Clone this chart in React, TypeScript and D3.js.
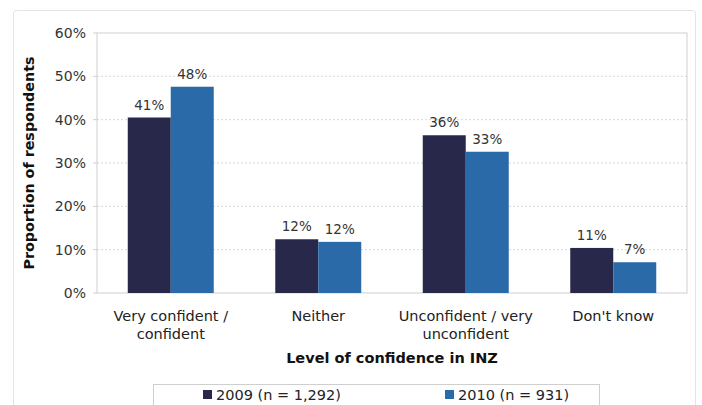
import * as d3 from "d3";

const categories = [
  ["Very confident /", "confident"],
  ["Neither"],
  ["Unconfident / very", "unconfident"],
  ["Don't know"],
];
const series = ["2009 (n = 1,292)", "2010 (n = 931)"];
const values2009 = [40.5, 12.4, 36.4, 10.4];
const values2010 = [47.6, 11.8, 32.6, 7.1];
const labels2009 = ["41%", "12%", "36%", "11%"];
const labels2010 = ["48%", "12%", "33%", "7%"];
const yTicks = [0, 10, 20, 30, 40, 50, 60];
const colors = ["#28284a", "#2a6aa9"];

const W = 702;
const H = 405;
const plot = { left: 97, right: 687, top: 33, bottom: 293 };
const font = "'DejaVu Sans', Verdana, sans-serif";

const App = () => {
  const x0 = d3
    .scaleBand()
    .domain(categories.map((_, i) => String(i)))
    .range([plot.left, plot.right])
    .paddingInner(0.417)
    .paddingOuter(0.2085);

  const x1 = d3
    .scaleBand()
    .domain(["0", "1"])
    .range([0, x0.bandwidth()]);

  const y = d3.scaleLinear().domain([0, 60]).range([plot.bottom, plot.top]);

  const allValues = [values2009, values2010];
  const allLabels = [labels2009, labels2010];

  return (
    <svg
      width={W}
      height={H}
      style={{ position: "absolute", left: 0, top: 0, background: "#fff" }}
      fontFamily={font}
    >
      <rect x={13.5} y={10.5} width={682} height={420} rx={3} fill="#fff" stroke="#e4e4e4" />
      {/* gridlines */}
      {yTicks.slice(1, -1).map((t) => (
        <line
          key={t}
          x1={plot.left}
          x2={plot.right}
          y1={y(t)}
          y2={y(t)}
          stroke="#d8d8d8"
          strokeDasharray="2,2"
        />
      ))}
      <rect
        x={plot.left}
        y={plot.top}
        width={plot.right - plot.left}
        height={plot.bottom - plot.top}
        fill="none"
        stroke="#cfcfcf"
      />
      {yTicks.map((t) => (
        <g key={t}>
          <line x1={plot.left - 4} x2={plot.left} y1={y(t)} y2={y(t)} stroke="#cfcfcf" />
          <text
            x={86}
            y={y(t)}
            dy="0.35em"
            textAnchor="end"
            fontSize={14}
            fill="#333"
          >
            {t}%
          </text>
        </g>
      ))}
      {/* bars */}
      {categories.map((_, i) => (
        <g key={i} transform={`translate(${x0(String(i))},0)`}>
          {allValues.map((vals, s) => (
            <g key={s}>
              <rect
                x={x1(String(s))}
                y={y(vals[i])}
                width={x1.bandwidth()}
                height={y(0) - y(vals[i])}
                fill={colors[s]}
              />
              <text
                x={(x1(String(s)) as number) + x1.bandwidth() / 2}
                y={y(vals[i]) - 8}
                textAnchor="middle"
                fontSize={13.5}
                fill="#333"
              >
                {allLabels[s][i]}
              </text>
            </g>
          ))}
        </g>
      ))}
      {/* category labels */}
      {categories.map((lines, i) => (
        <text
          key={i}
          x={(x0(String(i)) as number) + x0.bandwidth() / 2}
          y={321}
          textAnchor="middle"
          fontSize={14.5}
          fill="#222"
        >
          {lines.map((l, j) => (
            <tspan key={j} x={(x0(String(i)) as number) + x0.bandwidth() / 2} dy={j === 0 ? 0 : 18}>
              {l}
            </tspan>
          ))}
        </text>
      ))}
      <text
        x={(plot.left + plot.right) / 2}
        y={363}
        textAnchor="middle"
        fontSize={14.5}
        fontWeight="bold"
        fill="#111"
      >
        Level of confidence in INZ
      </text>
      <text
        transform={`translate(34,${(plot.top + plot.bottom) / 2}) rotate(-90)`}
        textAnchor="middle"
        fontSize={14.3}
        fontWeight="bold"
        fill="#111"
      >
        Proportion of respondents
      </text>
      {/* legend */}
      <rect x={153.5} y={384.5} width={446} height={40} fill="#fff" stroke="#cfcfcf" />
      {series.map((name, s) => {
        const lx = s === 0 ? 203 : 445;
        return (
          <g key={name}>
            <rect x={lx} y={390} width={9} height={9} fill={colors[s]} />
            <text x={lx + 13} y={400} fontSize={14.5} fill="#222">
              {name}
            </text>
          </g>
        );
      })}
    </svg>
  );
};

export default App;
